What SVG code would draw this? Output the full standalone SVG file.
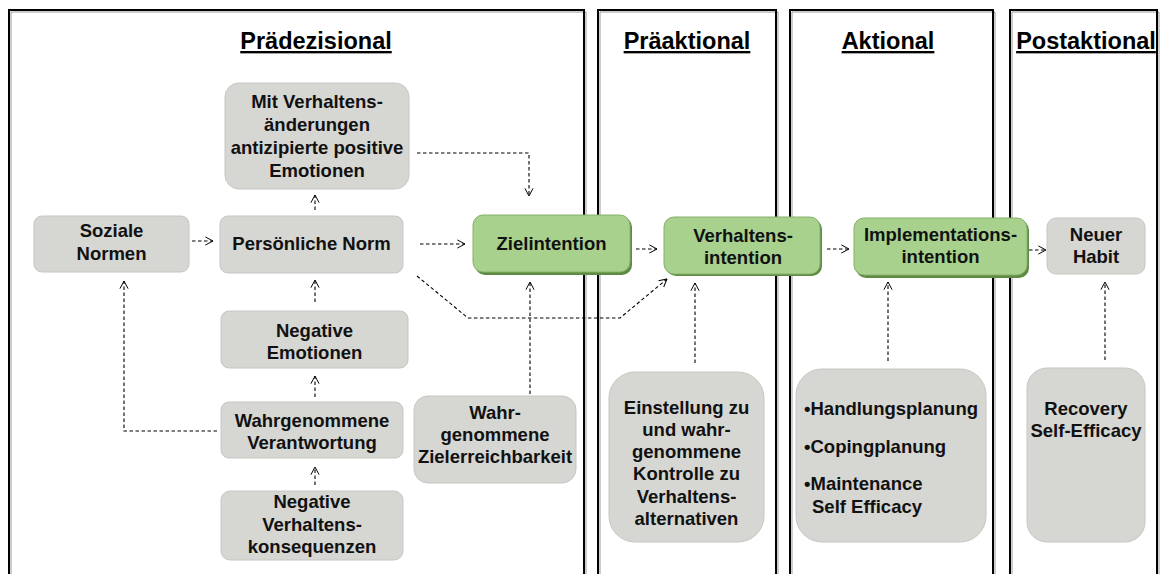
<svg xmlns="http://www.w3.org/2000/svg" width="1160" height="574" viewBox="0 0 1160 574">
<defs>
<style>
.panel{fill:none;stroke:#000;stroke-width:2}
.pshadow{fill:none;stroke:#9a9a9a;stroke-width:1}
.title{font-family:"Liberation Sans",Arial,sans-serif;font-weight:bold;font-size:23.5px;fill:#000;text-anchor:middle;text-decoration:underline}
.t{font-family:"Liberation Sans",Arial,sans-serif;font-weight:bold;font-size:18.5px;fill:#111;text-anchor:middle}
.tl{font-family:"Liberation Sans",Arial,sans-serif;font-weight:bold;font-size:18.5px;fill:#111}
.gray{fill:#d6d6d2;stroke:#c6c6c2;stroke-width:1}
.green{fill:#a9d18e;stroke:#86b06a;stroke-width:1}
.gshadow{fill:#5f8a43}
.c{fill:none;stroke:#000;stroke-width:1.1;stroke-dasharray:3.5,2.5;marker-end:url(#ah)}
.cn{fill:none;stroke:#000;stroke-width:1.1;stroke-dasharray:3.5,2.5}
</style>
<marker id="ah" viewBox="0 0 10 10" refX="9.5" refY="5" markerWidth="9" markerHeight="10" markerUnits="userSpaceOnUse" orient="auto">
<path d="M1,0.5 L9.5,5 L1,9.5" fill="none" stroke="#000" stroke-width="1.1" stroke-dasharray="none"/>
</marker>
</defs>
<rect width="1160" height="574" fill="#fff"/>
<g id="panels">
<path class="pshadow" d="M11,576 V12 H586 V576"/>
<path class="panel" d="M9,576 V10 H584 V576"/>
<path class="pshadow" d="M600,576 V12 H778 V576"/>
<path class="panel" d="M598,576 V10 H776 V576"/>
<path class="pshadow" d="M792,576 V12 H995 V576"/>
<path class="panel" d="M790,576 V10 H993 V576"/>
<path class="pshadow" d="M1012,576 V12 H1159 V576"/>
<path class="panel" d="M1010,576 V10 H1157 V576"/>
<text class="title" x="316" y="49">Prädezisional</text>
<text class="title" x="687" y="49">Präaktional</text>
<text class="title" x="888" y="49">Aktional</text>
<text class="title" x="1086" y="49">Postaktional</text>
</g>
<g id="connectors">
<path class="c" d="M192,241 L213,241"/>
<path class="c" d="M420,244 L465,244"/>
<path class="c" d="M636,249 L657,249"/>
<path class="c" d="M827,249 L849,249"/>
<path class="c" d="M1029,250 L1046,250"/>
<path class="c" d="M417,153 L529,153 L529,196"/>
<path class="c" d="M315,210 L315,195"/>
<path class="c" d="M315,302 L315,280"/>
<path class="c" d="M315,397 L315,376"/>
<path class="c" d="M315,485 L315,467"/>
<path class="c" d="M217,431 L124,431 L124,281"/>
<path class="c" d="M417,276 L468,318 L620,318 L667,279"/>
<path class="c" d="M530,394 L530,282"/>
<path class="c" d="M695,363 L695,283"/>
<path class="c" d="M888,361 L888,282"/>
<path class="c" d="M1105,360 L1105,282"/>
</g>
<g id="soziale">
<rect class="gray" x="34" y="216" width="155" height="56" rx="8"/>
<text class="t" x="111.5" y="237">Soziale</text>
<text class="t" x="111.5" y="260">Normen</text>
</g>
<g id="persoenliche">
<rect class="gray" x="220" y="216" width="183" height="57" rx="8"/>
<text class="t" x="311.5" y="250">Persönliche Norm</text>
</g>
<g id="mitverhaltens">
<rect class="gray" x="225" y="83" width="184" height="106" rx="14"/>
<text class="t" x="317" y="108">Mit Verhaltens-</text>
<text class="t" x="317" y="131">änderungen</text>
<text class="t" x="317" y="154">antizipierte positive</text>
<text class="t" x="317" y="177">Emotionen</text>
</g>
<g id="zielintention">
<rect class="gshadow" x="475" y="217" width="157" height="58" rx="10"/>
<rect class="green" x="473" y="215" width="157" height="57" rx="10"/>
<text class="t" x="551.5" y="250">Zielintention</text>
</g>
<g id="verhaltensintention">
<rect class="gshadow" x="666" y="219" width="156" height="57" rx="10"/>
<rect class="green" x="664" y="217" width="156" height="57" rx="10"/>
<text class="t" x="743" y="242">Verhaltens-</text>
<text class="t" x="743" y="264">intention</text>
</g>
<g id="implementationsintention">
<rect class="gshadow" x="856" y="220" width="173" height="58" rx="10"/>
<rect class="green" x="854" y="218" width="173" height="57" rx="10"/>
<text class="t" x="940.5" y="241">Implementations-</text>
<text class="t" x="940.5" y="263">intention</text>
</g>
<g id="neuerhabit">
<rect class="gray" x="1047" y="218" width="98" height="56" rx="9"/>
<text class="t" x="1096" y="241">Neuer</text>
<text class="t" x="1096" y="263">Habit</text>
</g>
<g id="negemotionen">
<rect class="gray" x="221" y="311" width="187" height="57" rx="8"/>
<text class="t" x="314.5" y="337">Negative</text>
<text class="t" x="314.5" y="359">Emotionen</text>
</g>
<g id="verantwortung">
<rect class="gray" x="221" y="402" width="182" height="56" rx="8"/>
<text class="t" x="312" y="427">Wahrgenommene</text>
<text class="t" x="312" y="449">Verantwortung</text>
</g>
<g id="konsequenzen">
<rect class="gray" x="221" y="491" width="182" height="69" rx="9"/>
<text class="t" x="312" y="508">Negative</text>
<text class="t" x="312" y="531">Verhaltens-</text>
<text class="t" x="312" y="553">konsequenzen</text>
</g>
<g id="zielerreichbarkeit">
<rect class="gray" x="414" y="396" width="162" height="87" rx="14"/>
<text class="t" x="495" y="419">Wahr-</text>
<text class="t" x="495" y="441">genommene</text>
<text class="t" x="495" y="463">Zielerreichbarkeit</text>
</g>
<g id="einstellung">
<rect class="gray" x="609" y="372" width="155" height="170" rx="26"/>
<text class="t" x="686.5" y="414">Einstellung zu</text>
<text class="t" x="686.5" y="436">und wahr-</text>
<text class="t" x="686.5" y="458">genommene</text>
<text class="t" x="686.5" y="480">Kontrolle zu</text>
<text class="t" x="686.5" y="503">Verhaltens-</text>
<text class="t" x="686.5" y="525">alternativen</text>
</g>
<g id="planung">
<rect class="gray" x="796" y="369" width="190" height="173" rx="26"/>
<text class="tl" x="804" y="415">•Handlungsplanung</text>
<text class="tl" x="804" y="453">•Copingplanung</text>
<text class="tl" x="804" y="490">•Maintenance</text>
<text class="tl" x="812" y="513">Self Efficacy</text>
</g>
<g id="recovery">
<rect class="gray" x="1027" y="368" width="118" height="174" rx="20"/>
<text class="t" x="1086" y="415">Recovery</text>
<text class="t" x="1086" y="437">Self-Efficacy</text>
</g>
</svg>
